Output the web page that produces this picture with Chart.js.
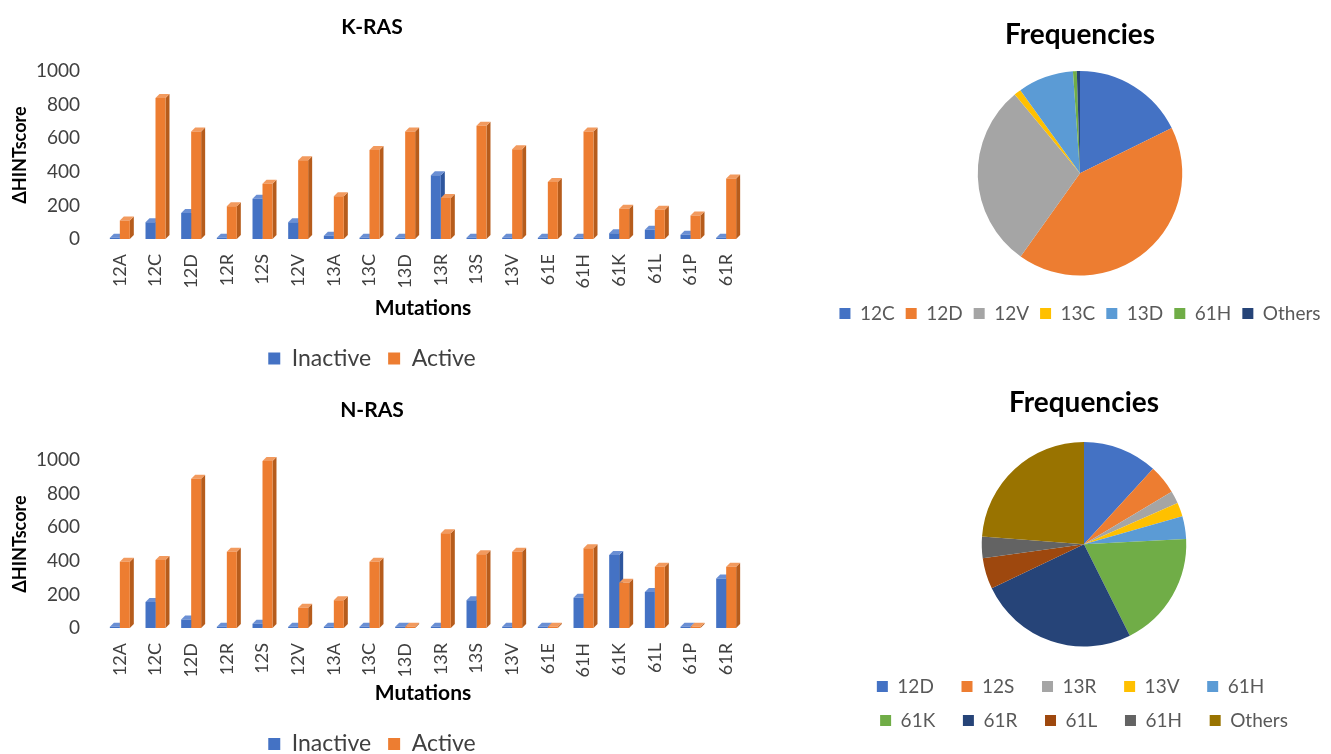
<!DOCTYPE html>
<html><head><meta charset="utf-8">
<script src="https://cdn.jsdelivr.net/npm/chart.js@4.4.1/dist/chart.umd.min.js"></script>
<style>
html,body{margin:0;padding:0;background:#fff;overflow:hidden;width:1331px;height:754px;}
.box{position:absolute;}
</style></head><body>
<div class="box" style="left:0;top:0;width:770px;height:380px"><canvas id="kras"></canvas></div>
<div class="box" style="left:0;top:389px;width:770px;height:380px"><canvas id="nras"></canvas></div>
<div class="box" style="left:810px;top:0;width:540px;height:333px"><canvas id="kpie"></canvas></div>
<div class="box" style="left:824px;top:370px;width:520px;height:370px"><canvas id="npie"></canvas></div>
<script>
// ---- data ----
const mutations = ['12A','12C','12D','12R','12S','12V','13A','13C','13D','13R','13S','13V','61E','61H','61K','61L','61P','61R'];
const krasInactive = [8,100,155,8,240,100,20,8,8,380,8,8,8,8,35,55,25,8];
const krasActive   = [110,840,640,195,330,470,255,530,640,245,675,535,340,640,180,175,140,360];
const nrasInactive = [8,155,50,8,25,8,8,8,8,8,165,8,8,180,435,215,8,295];
const nrasActive   = [395,405,890,455,995,120,165,395,8,565,440,455,8,475,270,365,8,365];
const seriesNames  = ['Inactive','Active'];
const yTicks = [0,200,400,600,800,1000];

const krasFreqLabels = ['12C','12D','12V','13C','13D','61H','Others'];
const krasFreq       = [17.7,42.1,29.1,1.1,8.8,0.6,0.5];
const nrasFreqLabels = ['12D','12S','13R','13V','61H','61K','61R','61L','61H','Others'];
const nrasFreq       = [11.8,4.6,2.0,2.2,3.6,18.4,25.3,4.9,3.4,23.8];

// ---- styles ----
Chart.defaults.font.family = 'Lato, "Open Sans", sans-serif';
Chart.defaults.color = '#404040';
Chart.defaults.animation = false;

const depthPlugin = {
  id: 'depth3d',
  beforeDatasetsDraw(chart) {
    const ctx = chart.ctx; const d = 4;
    chart.data.datasets.forEach((ds, i) => {
      const meta = chart.getDatasetMeta(i);
      meta.data.forEach(bar => {
        const p = bar.getProps(['x','y','base','width'], true);
        const l = p.x - p.width/2, r = p.x + p.width/2;
        ctx.save();
        ctx.fillStyle = ds.sideColor;
        ctx.beginPath();
        ctx.moveTo(r, p.y); ctx.lineTo(r+d, p.y-d); ctx.lineTo(r+d, p.base-d); ctx.lineTo(r, p.base);
        ctx.closePath(); ctx.fill();
        ctx.fillStyle = ds.topColor;
        ctx.beginPath();
        ctx.moveTo(l, p.y); ctx.lineTo(l+d, p.y-d); ctx.lineTo(r+d, p.y-d); ctx.lineTo(r, p.y);
        ctx.closePath(); ctx.fill();
        ctx.restore();
      });
    });
  }
};

function barConfig(titleText, inactive, active, L) {
  return {
    type: 'bar',
    data: { labels: mutations, datasets: [
      { label: seriesNames[0], data: inactive, backgroundColor: '#4472C4', sideColor: '#2E569E', topColor: '#6A8FD4', categoryPercentage: 0.56, barPercentage: 1 },
      { label: seriesNames[1], data: active, backgroundColor: '#ED7D31', sideColor: '#B65C1C', topColor: '#F29A5E', categoryPercentage: 0.56, barPercentage: 1 }
    ]},
    options: {
      responsive: true, maintainAspectRatio: false, animation: false,
      layout: { padding: { left: 0, right: 26, top: 0, bottom: L.bottomPad } },
      plugins: {
        title: { display: true, text: titleText, color: '#000', font: { size: 21, weight: 'bold' }, padding: L.titlePad },
        legend: { position: 'bottom', labels: { boxWidth: 12, boxHeight: 12, padding: 17, font: { size: 23 }, color: '#404040' } },
        tooltip: { enabled: false }
      },
      scales: {
        x: { grid: { display: false, drawTicks: false }, border: { display: false },
             afterFit: (s) => { s.height = L.xHeight; },
             ticks: { minRotation: 90, maxRotation: 90, padding: 15, autoSkip: false, font: { size: 18 }, color: '#404040' },
             title: { display: true, text: 'Mutations', color: '#000', font: { size: 21, weight: 'bold' }, padding: { top: 0, bottom: L.xTitleBottom } } },
        y: { min: 0, max: 1000, grid: { display: false, drawTicks: false }, border: { display: false },
             afterFit: (s) => { s.width = 102; },
             afterBuildTicks: (s) => { s.ticks = yTicks.map(v => ({ value: v })); },
             ticks: { padding: 22, font: { size: 19 }, color: '#404040', callback: (v) => String(v) },
             title: { display: true, text: 'ΔHINTscore', color: '#000', font: { size: 18, weight: 'bold' }, padding: { top: 9, bottom: 0 } } }
      }
    },
    plugins: [depthPlugin]
  };
}

new Chart(document.getElementById('kras'), barConfig('K-RAS', krasInactive, krasActive,
  { titlePad: { top: 15, bottom: 31 }, xHeight: 91, xTitleBottom: 9, bottomPad: 0 }));
new Chart(document.getElementById('nras'), barConfig('N-RAS', nrasInactive, nrasActive,
  { titlePad: { top: 8.5, bottom: 37.5 }, xHeight: 87.5, xTitleBottom: 10, bottomPad: 3.5 }));

const kColors = ['#4472C4','#ED7D31','#A5A5A5','#FFC000','#5B9BD5','#70AD47','#264478'];
const nColors = ['#4472C4','#ED7D31','#A5A5A5','#FFC000','#5B9BD5','#70AD47','#264478','#9E480E','#636363','#997300'];

function pieConfig(labels, values, colors, titlePad, legPad, legTitleTop, padFn) {
  return {
    type: 'pie',
    data: { labels: labels, datasets: [{ data: values, backgroundColor: colors, borderWidth: 0 }] },
    options: {
      responsive: true, maintainAspectRatio: false, animation: false,
      layout: { padding: 0 },
      plugins: {
        title: { display: true, text: 'Frequencies', color: '#000', font: { size: 28, weight: 'bold' }, padding: titlePad },
        legend: { position: 'bottom',
          title: { display: true, text: ' ', font: { size: 1 }, padding: { top: legTitleTop, bottom: 0 } },
          labels: { boxWidth: 11, boxHeight: 11, padding: legPad, font: { size: 19 }, color: '#595959',
            generateLabels: (chart) => {
              const items = Chart.overrides.pie.plugins.legend.labels.generateLabels(chart);
              if (padFn) items.forEach((it, i) => { it.text = it.text + padFn(i, items.length); });
              return items;
            } } },
        tooltip: { enabled: false }
      }
    }
  };
}

new Chart(document.getElementById('kpie'), pieConfig(krasFreqLabels, krasFreq, kColors, { top: 18.2, bottom: 19.2 }, 11, 16.3, null));
new Chart(document.getElementById('npie'), pieConfig(nrasFreqLabels, nrasFreq, nColors, { top: 16.2, bottom: 22.2 }, 15, 14.3,
  (i, n) => i === n - 1 ? '' : (i === 4 ? '\u2002\u2006\u2002\u2005' : '\u2002\u2006')));
</script>
</body></html>
